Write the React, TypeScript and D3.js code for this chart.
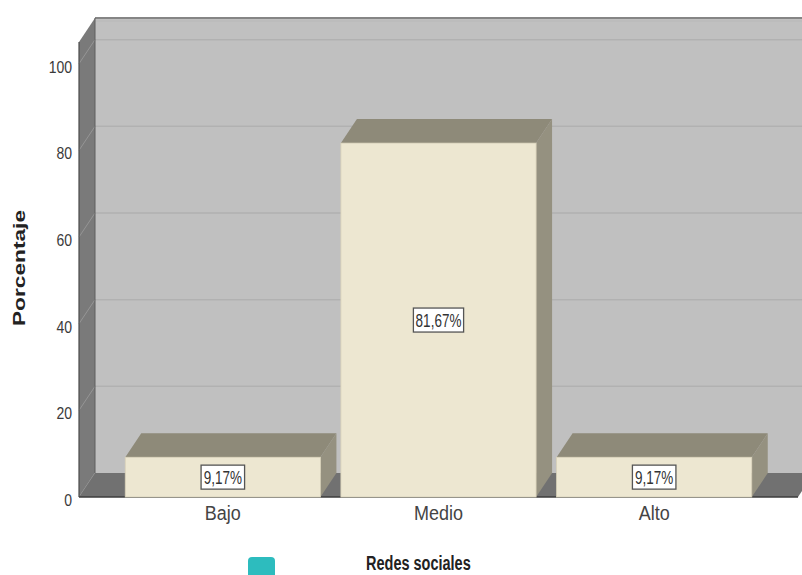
import React from 'react';
import * as d3 from 'd3';

const categories = ['Bajo', 'Medio', 'Alto'];
const percentages = [9.17, 81.67, 9.17];
const yTicks = [0, 20, 40, 60, 80, 100];
const yMax = 105;
const axisTitle = 'Porcentaje';
const legendTitle = 'Redes sociales';

const W = 802;
const H = 575;
const FONT = '"Liberation Sans", Arial, sans-serif';

// 3D depth offset of the walls and bars
const DX = 16;
const DY = 24;

const fmt = (v: number) => d3.format('.2f')(v).replace('.', ',') + '%';

const App: React.FC = () => {
  const y = d3.scaleLinear().domain([0, yMax]).range([497, 42]);
  const x = d3.scaleBand<string>()
    .domain(categories)
    .range([115, 762])
    .paddingInner(0.095)
    .paddingOuter(0.0475);

  const front0 = y(0);
  const left = 79;
  const right = 798;
  const top = y(yMax);
  const poly = (pts: [number, number][]) => pts.map(p => p.join(',')).join(' ');

  return (
    <svg width={W} height={H} style={{ position: 'absolute', left: 0, top: 0, background: '#fff' }} fontFamily={FONT}>
      {/* back wall */}
      <rect x={left + DX} y={top - DY} width={W - left - DX} height={front0 - top} fill="#c0c0c0" />
      {yTicks.slice(1).map(t => (
        <line key={'g' + t} x1={left + DX} x2={W} y1={y(t) - DY} y2={y(t) - DY} stroke="#b1b1b1" strokeWidth={1.5} />
      ))}
      <line x1={left + DX} x2={W} y1={top - DY} y2={top - DY} stroke="#858585" strokeWidth={2} />
      <line x1={left + DX} x2={W} y1={top - DY + 3} y2={top - DY + 3} stroke="#b8b8b8" strokeWidth={1} />

      {/* left wall */}
      <polygon
        points={poly([[left, top], [left + DX, top - DY], [left + DX, front0 - DY], [left, front0]])}
        fill="#7a7a7a"
      />
      {yTicks.map(t => (
        <line key={'s' + t} x1={left} y1={y(t)} x2={left + DX} y2={y(t) - DY} stroke="#9c9c9c" strokeWidth={0.8} />
      ))}
      <line x1={left + DX} x2={left + DX} y1={top - DY} y2={front0 - DY} stroke="#5e5e5e" strokeWidth={1} />
      <line x1={left} x2={left} y1={top} y2={front0} stroke="#4a4a4a" strokeWidth={1.2} />

      {/* floor */}
      <polygon
        points={poly([[left, front0], [right, front0], [right + DX, front0 - DY], [left + DX, front0 - DY]])}
        fill="#717171"
      />
      <line x1={left} x2={right} y1={front0} y2={front0} stroke="#3c3c3c" strokeWidth={1.5} />

      {/* bars */}
      {categories.map((c, i) => {
        const x0 = x(c) as number;
        const x1 = x0 + x.bandwidth();
        const yt = y(percentages[i]);
        const label = fmt(percentages[i]);
        const bw = 10 + label.length * 6.7;
        const cy = (yt + front0) / 2;
        const cx = (x0 + x1) / 2;
        return (
          <g key={c}>
            <polygon
              points={poly([[x1, yt], [x1 + DX, yt - DY], [x1 + DX, front0 - DY], [x1, front0]])}
              fill="#959180"
            />
            <polygon
              points={poly([[x0, yt], [x1, yt], [x1 + DX, yt - DY], [x0 + DX, yt - DY]])}
              fill="#8e8a79"
            />
            <rect x={x0} y={yt} width={x1 - x0} height={front0 - yt} fill="#ede7d1" stroke="#d8d1b8" strokeWidth={0.8} />
            <rect x={cx - bw / 2} y={cy - 12} width={bw} height={24} fill="#fff" stroke="#555" strokeWidth={1.3} />
            <text
              transform={`translate(${cx},${cy + 6.5}) scale(1,1.33)`}
              textAnchor="middle"
              fontSize={13.5}
              fill="#333"
            >
              {label}
            </text>
            <text
              transform={`translate(${cx},520) scale(1,1.1)`}
              textAnchor="middle"
              fontSize={18}
              fill="#444"
            >
              {c}
            </text>
          </g>
        );
      })}

      {/* y tick labels */}
      {yTicks.map(t => (
        <text
          key={'t' + t}
          transform={`translate(72,${y(t) + 9}) scale(1,1.2)`}
          textAnchor="end"
          fontSize={14}
          fill="#3a3a3a"
        >
          {t}
        </text>
      ))}

      {/* axis title */}
      <text
        transform="translate(25,268) rotate(-90) scale(1.42,1)"
        textAnchor="middle"
        fontSize={16}
        fontWeight="bold"
        fill="#222"
      >
        {axisTitle}
      </text>

      {/* legend */}
      <rect x={248} y={557} width={27} height={24} rx={4} fill="#2dbcbe" />
      <text transform="translate(366,570) scale(1,1.35)" fontSize={14.5} fontWeight="bold" fill="#222">
        {legendTitle}
      </text>
    </svg>
  );
};

export default App;
